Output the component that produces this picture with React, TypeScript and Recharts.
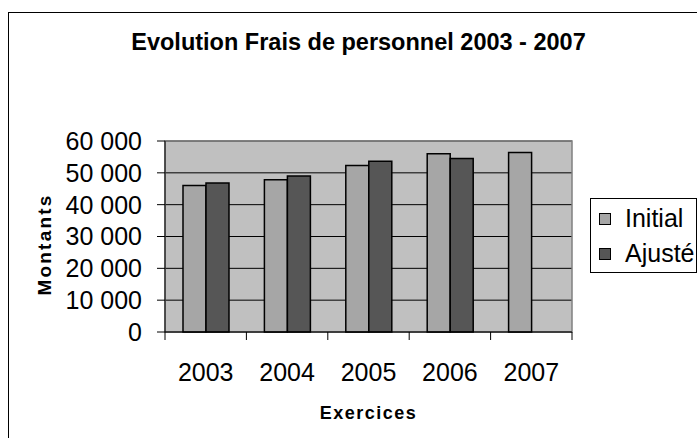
import { BarChart, Bar, XAxis, YAxis, CartesianGrid, ReferenceArea } from "recharts";

const YEARS = ["2003", "2004", "2005", "2006", "2007"];
const INITIAL = [46000, 47800, 52300, 56000, 56400];
const AJUSTE: (number | null)[] = [46800, 49000, 53600, 54500, null];
const Y_TICKS = [0, 10000, 20000, 30000, 40000, 50000, 60000];

const SERIES = [
  { key: "initial", name: "Initial", color: "#a6a6a6" },
  { key: "ajuste", name: "Ajusté", color: "#565656" },
];

const FONT = "'Liberation Sans', Arial, sans-serif";

const rows = YEARS.map((year, i) => ({ year, initial: INITIAL[i], ajuste: AJUSTE[i] }));

// "60000" -> "60 000"
function fmtThousands(v: number): string {
  return String(v).replace(/\B(?=(\d{3})+(?!\d))/g, " ");
}

// Excel puts the category tick marks between the bars, not under them.
function YearTick(props: any) {
  const { x, y, payload, index, visibleTicksCount } = props;
  const half = payload?.offset ?? 40.7;
  const last = index === visibleTicksCount - 1;
  return (
    <g>
      <line x1={x - half} x2={x - half} y1={y} y2={y + 8} stroke="#000" />
      {last && <line x1={x + half} x2={x + half} y1={y} y2={y + 8} stroke="#000" />}
      <text x={x} y={y + 49} textAnchor="middle" fontSize={25} fontFamily={FONT} fill="#000">
        {payload.value}
      </text>
    </g>
  );
}

function MontantsLabel(props: any) {
  const vb = props.viewBox ?? { x: 0, y: 141, width: 165, height: 191 };
  const cx = vb.x + 44;
  const cy = vb.y + vb.height / 2 + 8;
  return (
    <text
      x={cx}
      y={cy}
      transform={`rotate(-90 ${cx} ${cy})`}
      textAnchor="middle"
      dominantBaseline="central"
      fontFamily={FONT}
      fontWeight="bold"
      fontSize={19}
      letterSpacing={2.2}
      fill="#000"
    >
      Montants
    </text>
  );
}

function LegendBox() {
  return (
    <div
      style={{
        position: "absolute",
        left: 590,
        top: 198,
        width: 107,
        height: 75,
        border: "1px solid #000",
        background: "#fff",
        boxSizing: "border-box",
        paddingLeft: 8,
        paddingTop: 2,
        fontFamily: FONT,
      }}
    >
      {SERIES.map((s) => (
        <div
          key={s.key}
          style={{ display: "flex", alignItems: "center", fontSize: 25, lineHeight: "35px", height: 35, color: "#000" }}
        >
          <span
            style={{
              display: "inline-block",
              width: 10,
              height: 10,
              border: "1px solid #000",
              background: s.color,
              marginRight: 14,
            }}
          />
          {s.name}
        </div>
      ))}
    </div>
  );
}

export default function App() {
  return (
    <div style={{ position: "fixed", left: 0, top: 0, width: 697, height: 438, overflow: "hidden", background: "#fff" }}>
      <div
        style={{
          position: "absolute",
          left: 8,
          top: 12,
          width: 800,
          height: 600,
          border: "1px solid #000",
        }}
      />
      <div
        style={{
          position: "absolute",
          left: 0,
          top: 31,
          width: 717,
          textAlign: "center",
          fontFamily: FONT,
          fontWeight: "bold",
          fontSize: 23.5,
          lineHeight: "23.5px",
          color: "#000",
          whiteSpace: "nowrap",
        }}
      >
        Evolution Frais de personnel 2003 - 2007
      </div>
      <div style={{ position: "absolute", left: 0, top: 0 }}>
        <BarChart
          width={697}
          height={438}
          data={rows}
          margin={{ top: 141, right: 125, bottom: 11, left: 0 }}
          barGap={0}
          barSize={23}
        >
          <CartesianGrid vertical={false} stroke="#000" fill="#c0c0c0" fillOpacity={1} />
          <ReferenceArea y1={0} y2={60000} fill="none" stroke="#808080" strokeWidth={1.5} ifOverflow="visible" />
          <XAxis
            dataKey="year"
            height={95}
            stroke="#000"
            tickLine={false}
            tickSize={0}
            tickMargin={0}
            tick={<YearTick />}
            interval={0}
            label={{
              value: "Exercices",
              position: "insideBottom",
              offset: 8,
              style: { fontFamily: FONT, fontWeight: "bold", fontSize: 18, letterSpacing: 1.5, fill: "#000" },
            }}
          />
          <YAxis
            width={165}
            domain={[0, 60000]}
            ticks={Y_TICKS}
            interval={0}
            stroke="#000"
            tickSize={8}
            tickMargin={15}
            tickFormatter={fmtThousands}
            tick={{ fontSize: 25, fontFamily: FONT, fill: "#000" }}
            label={{ content: <MontantsLabel /> }}
          />
          {SERIES.map((s) => (
            <Bar
              key={s.key}
              dataKey={s.key}
              name={s.name}
              fill={s.color}
              stroke="#000"
              strokeWidth={1.5}
              isAnimationActive={false}
            />
          ))}
        </BarChart>
      </div>
      <LegendBox />
    </div>
  );
}
